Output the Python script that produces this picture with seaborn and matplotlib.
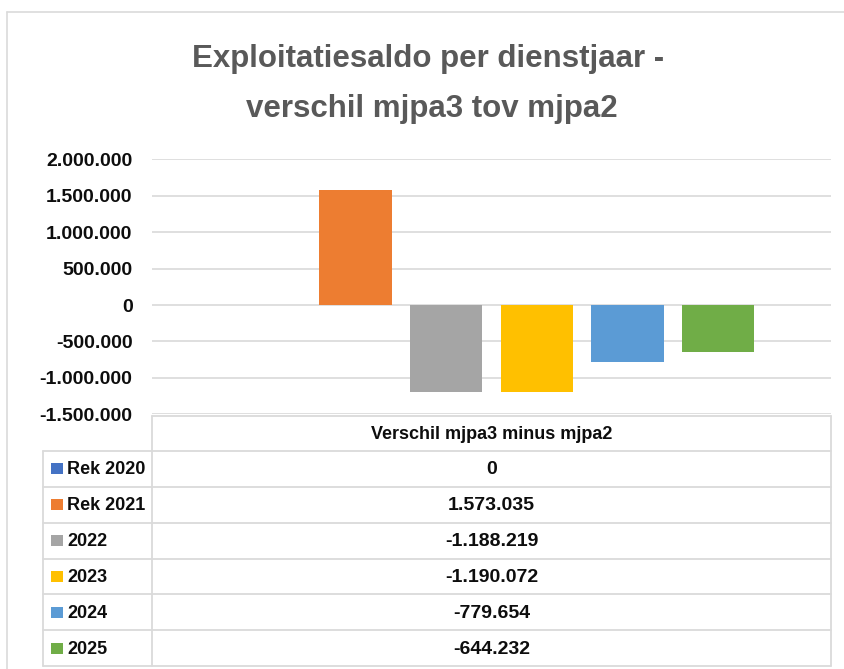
import numpy as np
import pandas as pd
import matplotlib.pyplot as plt
import seaborn as sns
from matplotlib.lines import Line2D
from matplotlib.patches import Rectangle

# --- data ---
series = ["Rek 2020", "Rek 2021", "2022", "2023", "2024", "2025"]
values = [0, 1573035, -1188219, -1190072, -779654, -644232]
colors = ["#4472C4", "#ED7D31", "#A5A5A5", "#FFC000", "#5B9BD5", "#70AD47"]
group = "Verschil mjpa3 minus mjpa2"
title_lines = ["Exploitatiesaldo per dienstjaar -", "verschil mjpa3 tov mjpa2"]
yticks = [-1500000, -1000000, -500000, 0, 500000, 1000000, 1500000, 2000000]


def nl(v):
    # dutch thousands separator
    return f"{v:,}".replace(",", ".")


df = pd.DataFrame({"groep": group, "jaar": series, "waarde": values})

sns.set_style("white")
plt.rcParams["font.family"] = ["Liberation Sans", "DejaVu Sans"]

W, H = 844, 669
fig = plt.figure(figsize=(W / 100, H / 100), dpi=100)

# plot area in pixels: x 152..831, y 159..414
ax = fig.add_axes([152 / W, 1 - 414.3 / H, 679 / W, 255 / H])
sns.barplot(data=df, x="groep", y="waarde", hue="jaar", hue_order=series,
            palette=colors, saturation=1, width=0.8, gap=0.2,
            linewidth=0, legend=False, ax=ax)
ax.set_xlim(-0.5, 0.5)
ax.set_ylim(yticks[0], yticks[-1])
ax.set_yticks(yticks)
ax.set_yticklabels([nl(t) for t in yticks], fontsize=14, fontweight="bold", color="#0d0d0d")
ax.set_xticks([])
ax.set_xlabel("")
ax.set_ylabel("")
ax.tick_params(axis="y", length=0, pad=14)
ax.yaxis.grid(True, color="#d9d9d9", linewidth=1.2)
ax.set_axisbelow(True)
sns.despine(ax=ax, left=True, bottom=True)

# overlay in pixel coordinates for frame, title and data table
ov = fig.add_axes([0, 0, 1, 1], zorder=5)
ov.set_xlim(0, W)
ov.set_ylim(H, 0)
ov.axis("off")
ov.patch.set_alpha(0)

lc = "#dadada"
ov.add_line(Line2D([7, 7], [12, H], color=lc, lw=1.2))
ov.add_line(Line2D([7, W], [12, 12], color=lc, lw=1.2))

ov.text(428, 66.5, title_lines[0], ha="center", va="baseline",
        fontsize=22.5, fontweight="bold", color="#595959")
ov.text(432, 116.5, title_lines[1], ha="center", va="baseline",
        fontsize=22.5, fontweight="bold", color="#595959")

# data table
x0, x1, x2 = 43, 152, 831
top, head_bot = 416, 451
rh = (666 - head_bot) / len(series)
ov.add_line(Line2D([x1, x2], [top, top], color=lc, lw=1.3))
ov.add_line(Line2D([x1, x1], [top, 666], color=lc, lw=1.3))
ov.add_line(Line2D([x2, x2], [top, 666], color=lc, lw=1.3))
ov.add_line(Line2D([x0, x0], [head_bot, 666], color=lc, lw=1.3))
ov.text((x1 + x2) / 2, (top + head_bot) / 2 + 1, group, ha="center", va="center",
        fontsize=13, fontweight="bold", color="#0d0d0d")
for i, (s, v, c) in enumerate(zip(series, values, colors)):
    y = head_bot + i * rh
    ov.add_line(Line2D([x0, x2], [y, y], color=lc, lw=1.3))
    yc = y + rh / 2
    ov.add_patch(Rectangle((51, yc - 5.5), 12, 11, color=c, lw=0))
    ov.text(67, yc + 1, s, ha="left", va="center", fontsize=13,
            fontweight="bold", color="#0d0d0d")
    ov.text((x1 + x2) / 2, yc + 1, nl(v), ha="center", va="center",
            fontsize=14, fontweight="bold", color="#0d0d0d")
ov.add_line(Line2D([x0, x2], [666, 666], color=lc, lw=1.3))

fig.savefig("out.png", dpi=100)
